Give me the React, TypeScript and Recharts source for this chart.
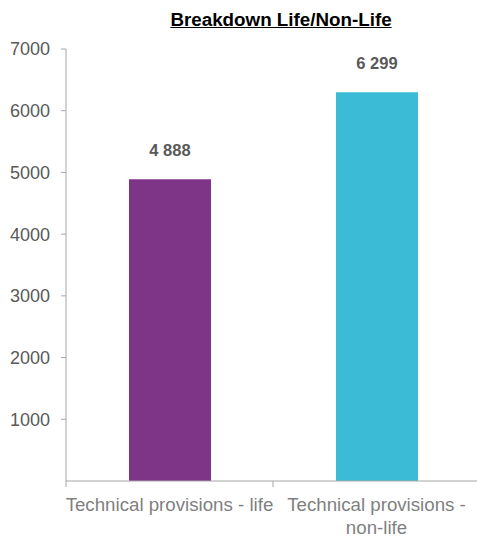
import { Bar, BarChart, Cell, LabelList, XAxis, YAxis } from "recharts";

const categories = ["Technical provisions - life", "Technical provisions - non-life"];
const values = [4888, 6299];
const barColors = ["#7E3487", "#3CBBD6"];
const yTicks = [1000, 2000, 3000, 4000, 5000, 6000, 7000];

const data = categories.map((name, i) => ({ name, value: values[i] }));

const FONT = "'Liberation Sans', Arial, sans-serif";
const AXIS = "#A6A6A6";

const fmt = (v: number) => String(v).replace(/\B(?=(\d{3})+(?!\d))/g, " ");

function wrap(text: string, max: number) {
  const words = text.split(" ");
  const lines: string[] = [];
  let cur = "";
  for (const w of words) {
    const next = cur ? cur + " " + w : w;
    if (next.length > max && cur) {
      lines.push(cur);
      cur = w;
    } else cur = next;
  }
  if (cur) lines.push(cur);
  return lines;
}

function XTick(props: any) {
  const { x, y, payload } = props;
  const half = payload.offset ?? 103.5;
  const lines = wrap(payload.value, 27);
  return (
    <g>
      <line x1={x - half} x2={x - half} y1={y} y2={y + 6} stroke={AXIS} />
      <text x={x} y={y + 30} textAnchor="middle" fill="#7F7F7F" fontSize={18.7} fontFamily={FONT}>
        {lines.map((l, i) => (
          <tspan key={i} x={x} dy={i === 0 ? 0 : 23}>
            {l}
          </tspan>
        ))}
      </text>
    </g>
  );
}

export default function App() {
  return (
    <div style={{ position: "absolute", left: 0, top: 0, width: 477, height: 541, overflow: "hidden", background: "#fff" }}>
      <div
        style={{
          position: "absolute",
          left: 281,
          top: 10,
          transform: "translateX(-50%)",
          whiteSpace: "nowrap",
          fontFamily: FONT,
          fontWeight: "bold",
          fontSize: 18.8,
          lineHeight: "20px",
          textDecoration: "underline",
          color: "#000",
        }}
      >
        Breakdown Life/Non-Life
      </div>
      <BarChart width={480} height={541} data={data} margin={{ top: 49, right: 0, bottom: 0, left: 0 }}>
        <XAxis
          dataKey="name"
          height={60}
          stroke={AXIS}
          tickLine={false}
          tickSize={0}
          tickMargin={0}
          tick={<XTick />}
          interval={0}
        />
        <YAxis
          width={66}
          domain={[0, 7000]}
          ticks={yTicks}
          stroke={AXIS}
          tickSize={5}
          tickMargin={11}
          tick={{ fill: "#595959", fontSize: 18, fontFamily: FONT }}
        />
        <Bar dataKey="value" barSize={82} isAnimationActive={false}>
          {data.map((_, i) => (
            <Cell key={i} fill={barColors[i]} />
          ))}
          <LabelList
            dataKey="value"
            position="top"
            offset={23}
            formatter={(v: any) => fmt(Number(v))}
            fill="#595959"
            fontSize={16.5}
            fontWeight="bold"
            fontFamily={FONT}
          />
        </Bar>
      </BarChart>
    </div>
  );
}
